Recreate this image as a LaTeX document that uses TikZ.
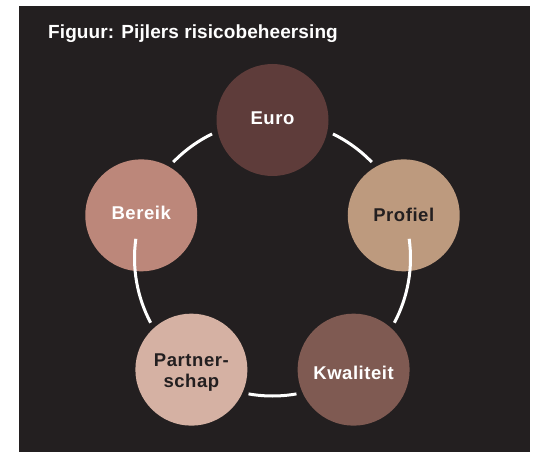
\documentclass[tikz,border=0pt]{standalone}
\usepackage{fontspec}
\setmainfont{Liberation Sans}
\usetikzlibrary{calc}
\definecolor{bgdark}{HTML}{231F20}
\definecolor{ceuro}{HTML}{5E3C3A}
\definecolor{cprofiel}{HTML}{BD9A7E}
\definecolor{ckwal}{HTML}{7F5A52}
\definecolor{cpartner}{HTML}{D5B1A3}
\definecolor{cbereik}{HTML}{BC877A}
\tikzset{
  pillar/.style={circle, minimum size=112pt, inner sep=0pt, align=center,
    font=\fontsize{18.5}{21}\selectfont\bfseries\addfontfeatures{LetterSpace=3}},
  ring/.style={draw=white, line width=3pt}
}
\begin{document}
\begin{tikzpicture}[x=1pt,y=-1pt]
\useasboundingbox (0,0) rectangle (542,452);
\fill[bgdark] (19,6) rectangle (530,452);
\node[anchor=base west, text=white, inner sep=0pt,
  font=\fontsize{19}{21}\selectfont\bfseries\addfontfeatures{LetterSpace=0.5}] (title) at (48,39) {Figuur: Pijlers risicobeheersing};
\coordinate (c) at (272.5,258);
\def\R{138}
\node[pillar, fill=ceuro] (euro) at ($(c)+(-90:\R)$) {};
\node[pillar, fill=cprofiel] (profiel) at ($(c)+(-18:\R)$) {};
\node[pillar, fill=ckwal] (kwal) at ($(c)+(54:\R)$) {};
\node[pillar, fill=cpartner] (partner) at ($(c)+(126:\R)$) {};
\node[pillar, fill=cbereik] (bereik) at ($(c)+(198:\R)$) {};
% labels
\node[pillar, text=white] (teuro) at ($(euro)+(0,-2)$) {Euro};
\node[pillar, text=bgdark] (tprofiel) at ($(profiel)+(0,0)$) {Profiel};
\node[pillar, text=white] (tkwal) at ($(kwal)+(0,3)$) {Kwaliteit};
\node[pillar, text=bgdark] (tpartner) at ($(partner)+(0,3)$) {Partner-\\schap};
\node[pillar, text=white] (tbereik) at ($(bereik)+(0,-2)$) {Bereik};
% ring arcs (y axis points down, so angles are mirrored)
\draw[ring] ($(c)+(-64:\R)$) arc[start angle=-64, end angle=-44, radius=\R];
\draw[ring] ($(c)+(-116:\R)$) arc[start angle=-116, end angle=-136, radius=\R];
\draw[ring] ($(c)+(-8:\R)$) arc[start angle=-8, end angle=28, radius=\R];
\draw[ring] ($(c)+(188:\R)$) arc[start angle=188, end angle=152, radius=\R];
\draw[ring] ($(c)+(80:\R)$) arc[start angle=80, end angle=100, radius=\R];
\end{tikzpicture}
\end{document}
